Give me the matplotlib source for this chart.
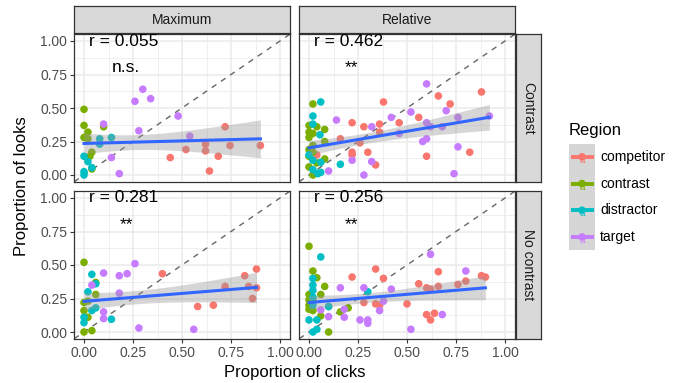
import matplotlib.pyplot as plt
import numpy as np

plt.rcParams['font.family'] = ['Liberation Sans', 'DejaVu Sans']

regions = ['competitor', 'contrast', 'distractor', 'target']
colors = ['#F8766D', '#7CAE00', '#00BFC4', '#C77CFF']
col_labels = ['Maximum', 'Relative']
row_labels = ['Contrast', 'No contrast']
r_labels = [['r = 0.055', 'r = 0.462'], ['r = 0.281', 'r = 0.256']]
sig_labels = [['n.s.', '**'], ['**', '**']]
ticks = [0, 0.25, 0.5, 0.75, 1.0]
tick_labels = ['0.00', '0.25', '0.50', '0.75', '1.00']

# (proportion of clicks, proportion of looks) per region
max_con = {
    'competitor': [(0.72, 0.36), (0.62, 0.23), (0.745, 0.22), (0.90, 0.22), (0.52, 0.19),
                   (0.62, 0.18), (0.44, 0.13), (0.685, 0.14), (0.64, 0.03)],
    'contrast': [(0, 0.49), (0, 0.37), (0.02, 0.32), (0, 0.28), (0.02, 0.27), (0.10, 0.36),
                 (0.04, 0.17), (0.03, 0.14), (0.04, 0.045)],
    'distractor': [(0, 0.14), (0.02, 0.10), (0.04, 0.055), (0, 0.025), (0, 0.0), (0.08, 0.27),
                   (0.08, 0.23), (0.14, 0.28)],
    'target': [(0.30, 0.64), (0.26, 0.55), (0.34, 0.57), (0.48, 0.44), (0.10, 0.38),
               (0.28, 0.33), (0.54, 0.29), (0.14, 0.13), (0.18, 0.01)],
}
rel_con = {
    'competitor': [(0.88, 0.62), (0.66, 0.59), (0.38, 0.545), (0.72, 0.53), (0.56, 0.43),
                   (0.36, 0.38), (0.22, 0.39), (0.28, 0.36), (0.46, 0.39), (0.36, 0.32),
                   (0.16, 0.27), (0.26, 0.24), (0.22, 0.17), (0.22, 0.15), (0.30, 0.17),
                   (0.34, 0.075), (0.60, 0.14), (0.82, 0.17), (0.04, 0.15)],
    'contrast': [(0.02, 0.53), (0, 0.37), (0.04, 0.36), (0.08, 0.34), (0, 0.32), (0.02, 0.31),
                 (0, 0.28), (0.08, 0.25), (0.02, 0.22), (0, 0.19), (0.02, 0.17), (0, 0.14),
                 (0.08, 0.12), (0, 0.06), (0.02, 0.0), (0.04, 0.09)],
    'distractor': [(0.06, 0.545), (0.02, 0.44), (0.02, 0.38), (0.056, 0.30), (0, 0.15),
                   (0.02, 0.11), (0.06, 0.095), (0.16, 0.08), (0.02, 0.04), (0.045, 0.01),
                   (0.06, 0.02)],
    'target': [(0.60, 0.68), (0.70, 0.48), (0.14, 0.41), (0.42, 0.43), (0.52, 0.47),
               (0.32, 0.36), (0.60, 0.39), (0.62, 0.36), (0.68, 0.36), (0.76, 0.43),
               (0.92, 0.44), (0.46, 0.31), (0.60, 0.27), (0.58, 0.25), (0.76, 0.21),
               (0.22, 0.11), (0.32, 0.10), (0.10, 0.03), (0.28, 0.0), (0.74, 0.01)],
}
max_nocon = {
    'competitor': [(0.88, 0.47), (0.82, 0.42), (0.40, 0.435), (0.72, 0.34), (0.84, 0.34),
                   (0.88, 0.33), (0.86, 0.25), (0.58, 0.19), (0.66, 0.20)],
    'contrast': [(0, 0.52), (0.06, 0.37), (0.06, 0.28), (0, 0.22), (0, 0.16), (0.02, 0.11),
                 (0, 0.0), (0.04, 0.01), (0.02, 0.23)],
    'distractor': [(0.04, 0.43), (0.06, 0.36), (0.02, 0.30), (0.04, 0.16), (0.06, 0.18),
                   (0, 0.11), (0, 0.07), (0.14, 0.095)],
    'target': [(0.26, 0.51), (0.10, 0.44), (0.18, 0.42), (0.22, 0.435), (0.04, 0.35),
               (0.18, 0.29), (0.10, 0.15), (0.10, 0.10), (0.28, 0.03), (0.56, 0.02)],
}
rel_nocon = {
    'competitor': [(0.34, 0.47), (0.22, 0.41), (0.38, 0.40), (0.66, 0.45), (0.56, 0.36),
                   (0.60, 0.33), (0.66, 0.34), (0.76, 0.355), (0.80, 0.38), (0.88, 0.42),
                   (0.90, 0.41), (0.62, 0.32), (0.28, 0.22), (0.34, 0.21), (0.36, 0.20),
                   (0.50, 0.21), (0.60, 0.13), (0.64, 0.14), (0.62, 0.09), (0.10, 0.19)],
    'contrast': [(0, 0.64), (0.02, 0.455), (0.04, 0.405), (0.08, 0.34), (0, 0.28), (0.06, 0.28),
                 (0.02, 0.25), (0, 0.17), (0.02, 0.16), (0.06, 0.12), (0.16, 0.15),
                 (0.20, 0.18), (0, 0.20), (0.10, 0.0), (0, 0.24)],
    'distractor': [(0.06, 0.56), (0.02, 0.40), (0.02, 0.35), (0.02, 0.31), (0.02, 0.26),
                   (0.02, 0.20), (0, 0.09), (0.04, 0.09), (0.02, 0.0), (0.04, 0.02),
                   (0.30, 0.30), (0.10, 0.19)],
    'target': [(0.62, 0.58), (0.80, 0.455), (0.16, 0.33), (0.28, 0.33), (0.42, 0.32),
               (0.38, 0.23), (0.36, 0.16), (0.18, 0.17), (0.18, 0.11), (0.26, 0.09),
               (0.30, 0.09), (0.30, 0.065), (0.52, 0.02), (0.68, 0.13), (0.06, 0.165),
               (0.10, 0.115)],
}
panels = [[max_con, rel_con], [max_nocon, rel_nocon]]

W, H = 673, 383
fig = plt.figure(figsize=(W / 100, H / 100), dpi=100)


def px_axes(x0, y0, x1, y1):
    return fig.add_axes([x0 / W, 1 - y1 / H, (x1 - x0) / W, (y1 - y0) / H])


col_px = [(74.2, 289.8), (299.2, 514.8)]
row_px = [(34.3, 181.7), (191.3, 338.7)]

for i in range(2):
    for j in range(2):
        x0, x1 = col_px[j]
        y0, y1 = row_px[i]
        ax = px_axes(x0, y0, x1, y1)
        ax.set_xlim(-0.05, 1.05)
        ax.set_ylim(-0.05, 1.05)
        ax.set_xticks(ticks)
        ax.set_yticks(ticks)
        ax.set_xticks([0.125, 0.375, 0.625, 0.875], minor=True)
        ax.set_yticks([0.125, 0.375, 0.625, 0.875], minor=True)
        ax.grid(which='major', color='#EBEBEB', lw=1.1)
        ax.grid(which='minor', color='#EBEBEB', lw=0.55)
        ax.set_axisbelow(True)
        ax.tick_params(which='minor', length=0)
        ax.tick_params(which='major', length=3, width=0.8, color='#333333',
                       labelcolor='#4D4D4D', labelsize=10, pad=2)
        ax.set_xticklabels(tick_labels if i == 1 else [])
        ax.set_yticklabels(tick_labels if j == 0 else [])
        if i == 0:
            ax.tick_params(axis='x', length=0)
        if j == 1:
            ax.tick_params(axis='y', length=0)
        for sp in ax.spines.values():
            sp.set_color('#333333')
            sp.set_linewidth(0.9)

        ax.plot([-0.05, 1.05], [-0.05, 1.05], ls=(0, (4, 4)), color='#666666', lw=1.0, zorder=2)

        data = panels[i][j]
        allx, ally = [], []
        for reg, c in zip(regions, colors):
            xs = [p[0] for p in data[reg]]
            ys = [p[1] for p in data[reg]]
            allx += xs
            ally += ys
            ax.scatter(xs, ys, s=30, color=c, edgecolors='none', zorder=3)

        # linear fit with 95% confidence band
        X = np.array(allx)
        Y = np.array(ally)
        n = len(X)
        b, a = np.polyfit(X, Y, 1)
        resid = Y - (a + b * X)
        s = np.sqrt(np.sum(resid ** 2) / (n - 2))
        sxx = np.sum((X - X.mean()) ** 2)
        xg = np.linspace(X.min(), X.max(), 80)
        yg = a + b * xg
        se = s * np.sqrt(1 / n + (xg - X.mean()) ** 2 / sxx)
        ax.fill_between(xg, yg - 1.98 * se, yg + 1.98 * se, color='#999999', alpha=0.4,
                        lw=0, zorder=4)
        ax.plot(xg, yg, color='#3366FF', lw=2.2, zorder=5)

        ax.text(0.2, 1.0, r_labels[i][j], ha='center', va='center', fontsize=12.5, zorder=6)
        ax.text(0.215, 0.8, sig_labels[i][j], ha='center', va='center', fontsize=12.5, zorder=6)

# strips
for j in range(2):
    sx = px_axes(col_px[j][0], 6, col_px[j][1], 33)
    sx.set_facecolor('#D9D9D9')
    sx.set_xticks([])
    sx.set_yticks([])
    for sp in sx.spines.values():
        sp.set_color('#333333')
        sp.set_linewidth(0.9)
    sx.text(0.5, 0.5, col_labels[j], ha='center', va='center', fontsize=10, color='#1A1A1A',
            transform=sx.transAxes)
for i in range(2):
    sx = px_axes(516, row_px[i][0], 541, row_px[i][1])
    sx.set_facecolor('#D9D9D9')
    sx.set_xticks([])
    sx.set_yticks([])
    for sp in sx.spines.values():
        sp.set_color('#333333')
        sp.set_linewidth(0.9)
    sx.text(0.5, 0.5, row_labels[i], ha='center', va='center', fontsize=10, color='#1A1A1A',
            rotation=-90, transform=sx.transAxes)

# overlay in pixel coordinates for labels and legend
ov = fig.add_axes([0, 0, 1, 1])
ov.set_xlim(0, W)
ov.set_ylim(H, 0)
ov.axis('off')
ov.patch.set_visible(False)

ov.text(294.5, 372, 'Proportion of clicks', ha='center', va='center', fontsize=12)
ov.text(22, 186.5, 'Proportion of looks', ha='center', va='center', fontsize=12, rotation=90)

ov.text(569, 130, 'Region', ha='left', va='center', fontsize=12)
key_top = 143.5
key_h = 26.7
ov.add_patch(plt.Rectangle((569, key_top), 26, key_h * 4, facecolor='#D6D6D6', edgecolor='none'))
for k, (reg, c) in enumerate(zip(regions, colors)):
    cy = key_top + key_h * (k + 0.5)
    ov.plot([570.5, 593.5], [cy, cy], color=c, lw=2.8, solid_capstyle='butt')
    ov.scatter([582], [cy], s=30, color=c, edgecolors='none')
    ov.text(582, cy + 3, 'a', ha='center', va='center', fontsize=7, color=c)
    ov.text(600, cy, reg, ha='left', va='center', fontsize=10)

fig.savefig('out.png', dpi=100)
